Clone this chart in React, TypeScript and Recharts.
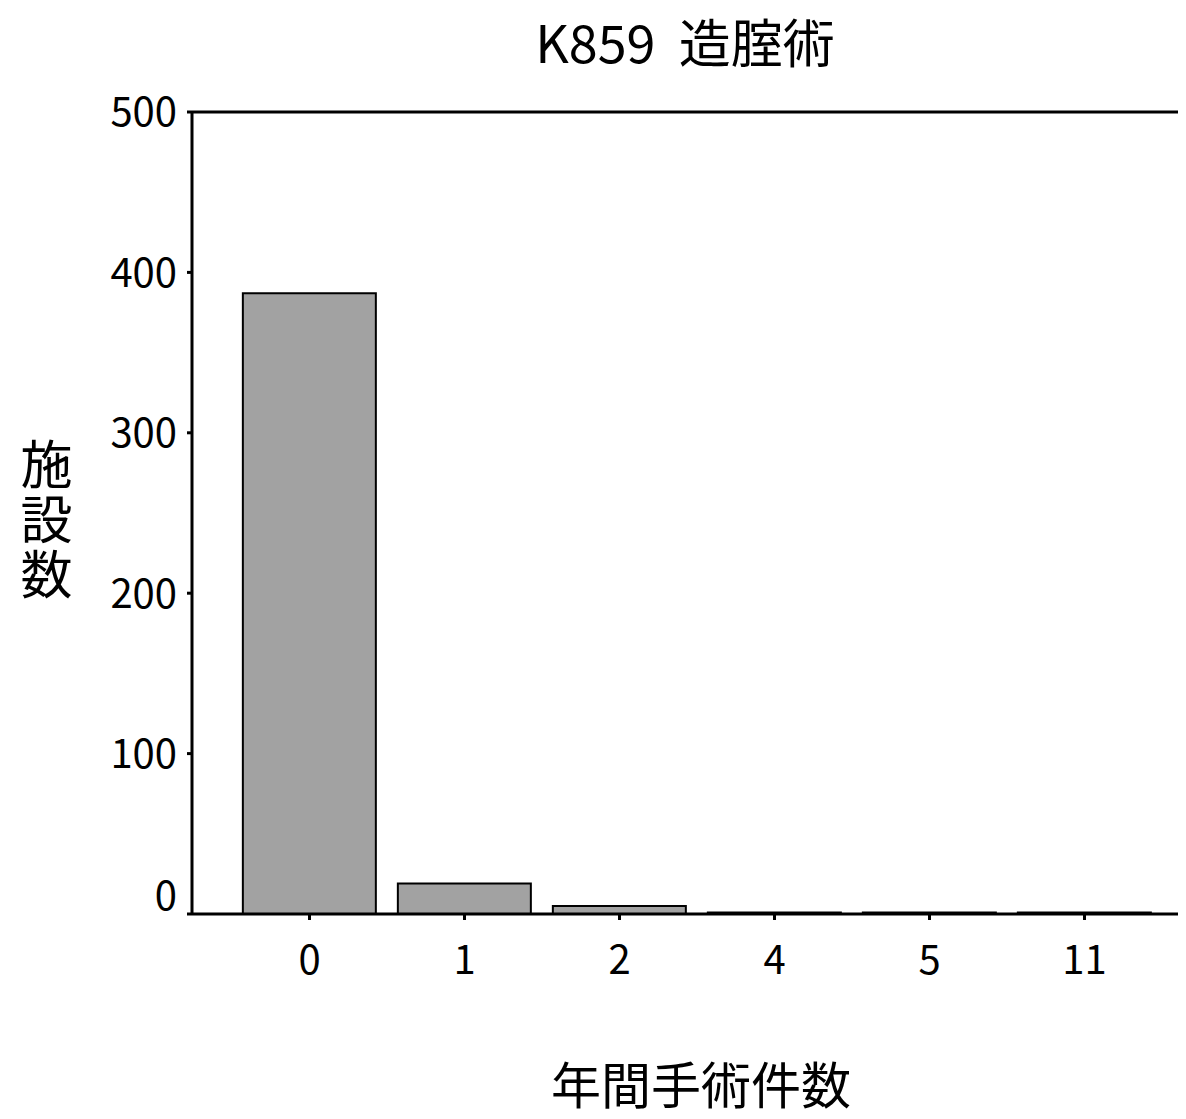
import React from 'react';
import { BarChart, Bar, XAxis, YAxis, ReferenceLine } from 'recharts';

const categories = ['0', '1', '2', '4', '5', '11'];
const facilityCounts = [387, 19, 5, 1, 1, 1];
const yTicks = [0, 100, 200, 300, 400, 500];

const data = categories.map((c, i) => ({ name: c, value: facilityCounts[i] }));

const FONT = '"Noto Sans CJK JP", "Liberation Sans", sans-serif';

function YTick(props: any) {
  const { x, y, payload } = props;
  const shift = payload.value === 0 ? -18 : 0;
  return (
    <text x={x} y={y + shift} dy="0.36em" textAnchor="end" fontSize={40} fontFamily={FONT} fill="#000">
      {payload.value}
    </text>
  );
}

export default function App() {
  return (
    <div style={{ position: 'relative', width: 1186, height: 1119, margin: -8, overflow: 'hidden', background: '#fff' }}>
      <div style={{ position: 'absolute', left: 0, top: 0 }}>
        <BarChart
          width={1210}
          height={1119}
          data={data}
          margin={{ top: 112, right: 8, bottom: 0, left: 0 }}
          barCategoryGap="7%"
        >
          <XAxis
            dataKey="name"
            padding={{ left: 40, right: 40 }}
            height={205}
            stroke="#000"
            strokeWidth={3}
            tickSize={6}
            tickMargin={26}
            tick={{ fontSize: 40, fontFamily: FONT, fill: '#000' }}
          />
          <YAxis
            domain={[0, 500]}
            ticks={yTicks}
            width={192}
            stroke="#000"
            strokeWidth={3}
            tickSize={5}
            tickMargin={10}
            tick={<YTick />}
          />
          <ReferenceLine y={500} stroke="#000" strokeWidth={3} />
          <Bar dataKey="value" fill="#a2a2a2" stroke="#000" strokeWidth={2} isAnimationActive={false} />
        </BarChart>
      </div>
      <div style={{ position: 'absolute', left: 0, width: 1370, top: 10, textAlign: 'center', fontFamily: FONT, fontSize: 52, lineHeight: '62px', whiteSpace: 'pre' }}>
        {'K859  造腟術'}
      </div>
      <div style={{ position: 'absolute', left: 16, top: 438, fontFamily: FONT, fontSize: 52, lineHeight: '60px', writingMode: 'vertical-rl', textOrientation: 'upright', letterSpacing: 3 }}>
        施設数
      </div>
      <div style={{ position: 'absolute', left: 0, width: 1402, top: 1052, textAlign: 'center', fontFamily: FONT, fontSize: 50, lineHeight: '60px' }}>
        年間手術件数
      </div>
    </div>
  );
}
